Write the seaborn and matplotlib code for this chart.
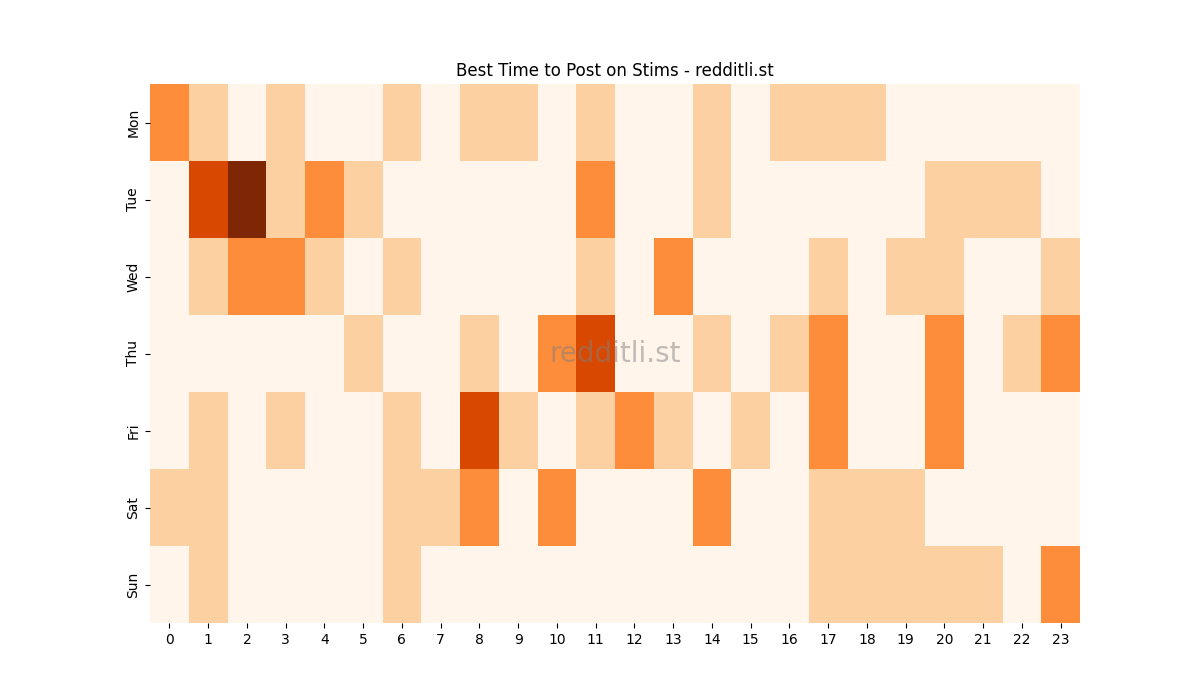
import numpy as np
import pandas as pd
import matplotlib
matplotlib.use("Agg")
import matplotlib.pyplot as plt
import seaborn as sns

days = ["Mon", "Tue", "Wed", "Thu", "Fri", "Sat", "Sun"]
hours = list(range(24))

mon = [2, 1, 0, 1, 0, 0, 1, 0, 1, 1, 0, 1, 0, 0, 1, 0, 1, 1, 1, 0, 0, 0, 0, 0]
tue = [0, 3, 4, 1, 2, 1, 0, 0, 0, 0, 0, 2, 0, 0, 1, 0, 0, 0, 0, 0, 1, 1, 1, 0]
wed = [0, 1, 2, 2, 1, 0, 1, 0, 0, 0, 0, 1, 0, 2, 0, 0, 0, 1, 0, 1, 1, 0, 0, 1]
thu = [0, 0, 0, 0, 0, 1, 0, 0, 1, 0, 2, 3, 0, 0, 1, 0, 1, 2, 0, 0, 2, 0, 1, 2]
fri = [0, 1, 0, 1, 0, 0, 1, 0, 3, 1, 0, 1, 2, 1, 0, 1, 0, 2, 0, 0, 2, 0, 0, 0]
sat = [1, 1, 0, 0, 0, 0, 1, 1, 2, 0, 2, 0, 0, 0, 2, 0, 0, 1, 1, 1, 0, 0, 0, 0]
sun = [0, 1, 0, 0, 0, 0, 1, 0, 0, 0, 0, 0, 0, 0, 0, 0, 0, 1, 1, 1, 1, 1, 0, 2]

df = pd.DataFrame([mon, tue, wed, thu, fri, sat, sun], index=days, columns=hours)

fig, ax = plt.subplots(figsize=(12, 7), dpi=100)
sns.heatmap(df, cmap="Oranges", cbar=False, ax=ax)
ax.set_title("Best Time to Post on Stims - redditli.st")
ax.text(0.5, 0.5, "redditli.st", transform=ax.transAxes, ha="center", va="center",
        fontsize=20, color="gray", alpha=0.5)
plt.savefig("out.png")
